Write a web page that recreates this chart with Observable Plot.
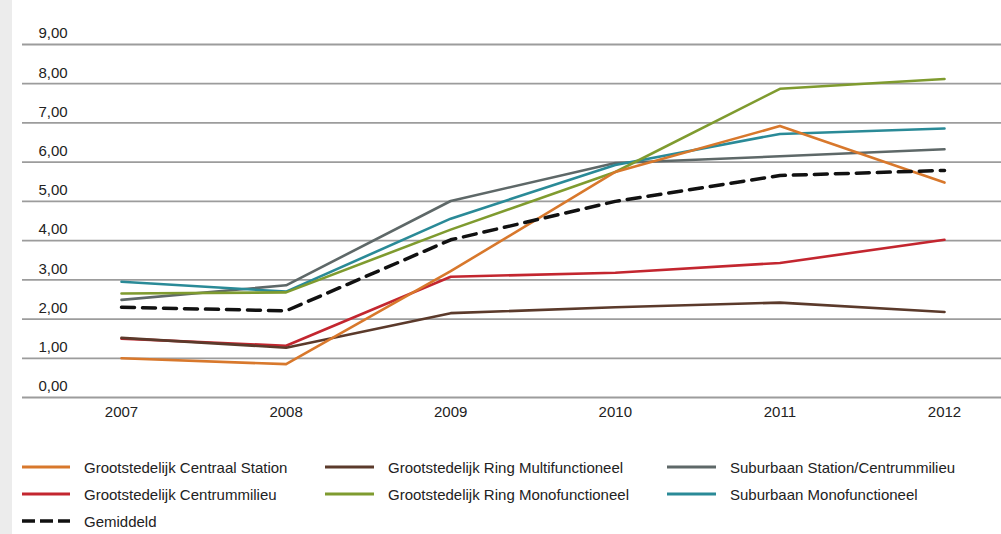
<!DOCTYPE html>
<html>
<head>
<meta charset="utf-8">
<script src="https://cdn.jsdelivr.net/npm/d3@7"></script>
<script src="https://cdn.jsdelivr.net/npm/@observablehq/plot@0.6"></script>
<style>
  html, body { margin: 0; padding: 0; background: #fff; }
  body { width: 1001px; height: 534px; position: relative; overflow: hidden;
         font-family: "Liberation Sans", Arial, sans-serif; }
  #strip { position: absolute; left: 0; top: 0; width: 12px; height: 534px; background: #ececec; }
  #chart { position: absolute; left: 0; top: 0; }
  .leg { position: absolute; display: flex; align-items: center; font-size: 15px; color: #222; white-space: nowrap; }
  .leg svg { display: block; margin-right: 14px; }
</style>
</head>
<body>
<div id="strip"></div>
<div id="chart"></div>
<div id="legend"></div>
<script>
const years = [2007, 2008, 2009, 2010, 2011, 2012];
const seriesNames = [
  "Grootstedelijk Centraal Station",
  "Grootstedelijk Centrummilieu",
  "Grootstedelijk Ring Multifunctioneel",
  "Grootstedelijk Ring Monofunctioneel",
  "Suburbaan Station/Centrummilieu",
  "Suburbaan Monofunctioneel",
  "Gemiddeld"
];
const centraalStation   = [1.00, 0.85, 3.22, 5.75, 6.92, 5.48];
const centrummilieu     = [1.50, 1.32, 3.08, 3.18, 3.43, 4.02];
const ringMulti         = [1.52, 1.27, 2.15, 2.30, 2.42, 2.18];
const ringMono          = [2.65, 2.68, 4.28, 5.75, 7.87, 8.12];
const subStation        = [2.49, 2.86, 5.01, 5.98, 6.15, 6.33];
const subMono           = [2.95, 2.70, 4.56, 5.93, 6.72, 6.86];
const gemiddeld         = [2.30, 2.21, 4.02, 5.00, 5.66, 5.79];
const seriesValues = [centraalStation, centrummilieu, ringMulti, ringMono, subStation, subMono, gemiddeld];
const seriesColors = ["#d8782c", "#c3262f", "#5b3a2b", "#7f9b2f", "#5e6868", "#2a8a97", "#111111"];
const yTicks = [0, 1, 2, 3, 4, 5, 6, 7, 8, 9];
const yTickLabels = ["0,00", "1,00", "2,00", "3,00", "4,00", "5,00", "6,00", "7,00", "8,00", "9,00"];
const xTickLabels = ["2007", "2008", "2009", "2010", "2011", "2012"];

// legend layout: [column, row] for each series
const legendPos = [[0,0],[0,1],[1,0],[1,1],[2,0],[2,1],[0,2]];

const rows = [];
seriesNames.forEach((name, i) => {
  years.forEach((yr, j) => rows.push({series: name, idx: i, year: yr, value: seriesValues[i][j]}));
});

const drawOrder = [4, 5, 3, 1, 2, 0];
const solid = rows.filter(d => d.idx !== 6);
solid.sort((a, b) => drawOrder.indexOf(a.idx) - drawOrder.indexOf(b.idx));
const avg = rows.filter(d => d.idx === 6);

const font = "Liberation Sans, Arial, sans-serif";
const plot = Plot.plot({
  width: 1001,
  height: 440,
  marginLeft: 121,
  marginRight: 57,
  marginTop: 44,
  marginBottom: 43,
  style: {fontFamily: font, fontSize: "15px", color: "#222", background: "transparent"},
  x: {domain: [2007, 2012], axis: null},
  y: {domain: [0, 9], axis: null},
  marks: [
    Plot.ruleY(yTicks, {y: d => d, stroke: "#9c9c9c", strokeWidth: 1.8, insetLeft: -99, insetRight: -57}),
    Plot.text(yTicks, {y: d => d, text: (d, i) => yTickLabels[i], frameAnchor: "left", textAnchor: "start", dx: -83, dy: -11, fill: "#222", fontSize: 15, letterSpacing: "-0.3px"}),
    Plot.text(years, {x: d => d, text: (d, i) => xTickLabels[i], frameAnchor: "bottom", dy: 19, fill: "#222", fontSize: 15}),
    Plot.line(solid, {x: "year", y: "value", z: "series", stroke: d => seriesColors[d.idx], strokeWidth: 2.6, strokeLinejoin: "round"}),
    Plot.line(avg, {x: "year", y: "value", stroke: seriesColors[6], strokeWidth: 3.5, strokeDasharray: "13,8"})
  ]
});
document.getElementById("chart").appendChild(plot);

const colX = [[22, 84], [325, 388], [667, 730]];
const rowY = [467, 494, 521];
const legend = document.getElementById("legend");
seriesNames.forEach((name, i) => {
  const [c, r] = legendPos[i];
  const div = document.createElement("div");
  div.className = "leg";
  div.style.left = colX[c][0] + "px";
  div.style.top = (rowY[r] - 9) + "px";
  div.style.height = "18px";
  const dash = i === 6 ? 'stroke-dasharray="13,5"' : "";
  const sw = i === 6 ? 3.5 : 2.8;
  div.innerHTML = `<svg width="${colX[c][1] - colX[c][0] - 14}" height="18"><line x1="0" x2="${colX[c][1] - colX[c][0] - 14}" y1="9" y2="9" stroke="${seriesColors[i]}" stroke-width="${sw}" ${dash}/></svg><span>${name}</span>`;
  legend.appendChild(div);
});
</script>
</body>
</html>
